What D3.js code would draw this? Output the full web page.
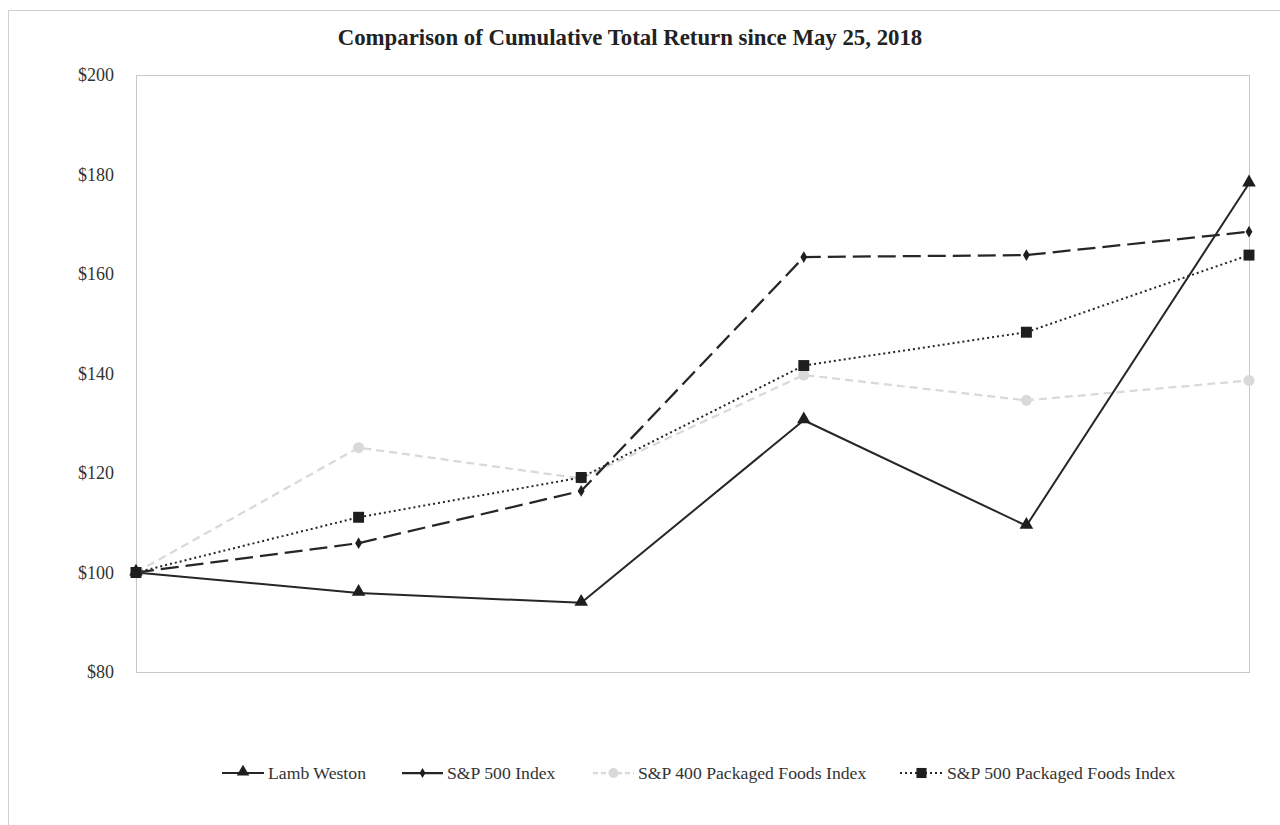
<!DOCTYPE html>
<html>
<head>
<meta charset="utf-8">
<script src="https://cdn.jsdelivr.net/npm/d3@7"></script>
<style>
  html, body { margin: 0; padding: 0; background: #fff; }
  svg { display: block; }
  text { font-family: "Liberation Serif", "Times New Roman", serif; }
</style>
</head>
<body>
<svg id="chart" width="1280" height="825"></svg>
<script>
const titleText = "Comparison of Cumulative Total Return since May 25, 2018";
const categories = ["May 2018", "May 2019", "May 2020", "May 2021", "May 2022", "May 2023"];
const lambWeston = [100, 95.9, 93.9, 130.6, 109.4, 178.2];
const sp500 = [100, 105.9, 116.4, 163.4, 163.8, 168.5];
const sp400Packaged = [100, 125.1, 118.9, 139.7, 134.6, 138.6];
const sp500Packaged = [100, 111.1, 119.1, 141.6, 148.3, 163.8];
const yTicks = [80, 100, 120, 140, 160, 180, 200];
const seriesNames = ["Lamb Weston", "S&P 500 Index", "S&P 400 Packaged Foods Index", "S&P 500 Packaged Foods Index"];

const svg = d3.select("#chart");

// outer frame
svg.append("rect").attr("x", 8.5).attr("y", 10.5).attr("width", 1300).attr("height", 900)
  .attr("fill", "none").attr("stroke", "#d0d0d0").attr("stroke-width", 1);

const plotLeft = 136, plotRight = 1250, plotTop = 75, plotBottom = 672;

const x = d3.scalePoint().domain(categories).range([plotLeft, plotRight - 1]);
const y = d3.scaleLinear().domain([80, 200]).range([plotBottom, plotTop]);

// title
svg.append("text").attr("x", 630).attr("y", 45).attr("text-anchor", "middle")
  .attr("font-size", 22.8).attr("font-weight", "bold").attr("fill", "#222")
  .text(titleText);

// plot border
svg.append("rect").attr("x", plotLeft + 0.5).attr("y", plotTop + 0.5)
  .attr("width", plotRight - plotLeft - 1).attr("height", plotBottom - plotTop)
  .attr("fill", "none").attr("stroke", "#c8c8c8").attr("stroke-width", 1);

// y axis labels
const yAxis = d3.axisLeft(y).tickValues(yTicks).tickFormat(d => "$" + d).tickSize(0).tickPadding(22);
const gy = svg.append("g").attr("transform", `translate(${plotLeft},0)`).call(yAxis);
gy.select(".domain").remove();
gy.selectAll("text").attr("font-size", 18).attr("fill", "#333")
  .attr("font-family", "Liberation Serif, Times New Roman, serif");

const styles = [
  { data: lambWeston, color: "#262626", width: 2, dash: null, marker: "triangle", msize: 80 },
  { data: sp500, color: "#262626", width: 2.25, dash: "18,7", marker: "diamond", msize: 40 },
  { data: sp400Packaged, color: "#d9d9d9", width: 2.25, dash: "8,5", marker: "circle", msize: 95 },
  { data: sp500Packaged, color: "#262626", width: 2, dash: "2,3", marker: "square", msize: 120 }
];

const symbolMap = {
  triangle: d3.symbolTriangle,
  diamond: d3.symbolDiamond,
  circle: d3.symbolCircle,
  square: d3.symbolSquare
};

const line = d3.line().x((d, i) => x(categories[i])).y(d => y(d));

// draw order: gray underneath
const order = [2, 1, 3, 0];
order.forEach(k => {
  const s = styles[k];
  svg.append("path").datum(s.data).attr("d", line)
    .attr("fill", "none").attr("stroke", s.color).attr("stroke-width", s.width)
    .attr("stroke-dasharray", s.dash).attr("stroke-linejoin", "round");
});
order.forEach(k => {
  const s = styles[k];
  const sym = d3.symbol().type(symbolMap[s.marker]).size(s.msize);
  svg.append("g").selectAll("path").data(s.data).join("path")
    .attr("d", sym)
    .attr("transform", (d, i) => {
      let ty = y(d);
      if (s.marker === "triangle") ty -= 1;
      return `translate(${x(categories[i])},${ty})`;
    })
    .attr("fill", s.marker === "circle" ? "#d9d9d9" : "#1e1e1e");
});

// legend
const legendY = 773;
const legendItems = [
  { x0: 222, x1: 264, text: 268 },
  { x0: 402, x1: 443, text: 447 },
  { x0: 593, x1: 634, text: 638 },
  { x0: 900, x1: 943, text: 947 }
];
legendItems.forEach((li, k) => {
  const s = styles[k];
  const g = svg.append("g");
  g.append("line").attr("x1", li.x0).attr("x2", li.x1).attr("y1", legendY).attr("y2", legendY)
    .attr("stroke", s.color).attr("stroke-width", s.width)
    .attr("stroke-dasharray", s.dash === "18,7" ? null : (s.dash === "8,5" ? "5,3" : s.dash));
  const sym = d3.symbol().type(symbolMap[s.marker]).size(s.marker === "diamond" ? 30 : s.msize * 0.85);
  g.append("path").attr("d", sym)
    .attr("transform", `translate(${(li.x0 + li.x1) / 2},${legendY - (s.marker === "triangle" ? 1 : 0)})`)
    .attr("fill", s.marker === "circle" ? "#d9d9d9" : "#1e1e1e");
  g.append("text").attr("x", li.text).attr("y", legendY + 6)
    .attr("font-size", 17.7).attr("fill", "#333").text(seriesNames[k]);
});
</script>
</body>
</html>
